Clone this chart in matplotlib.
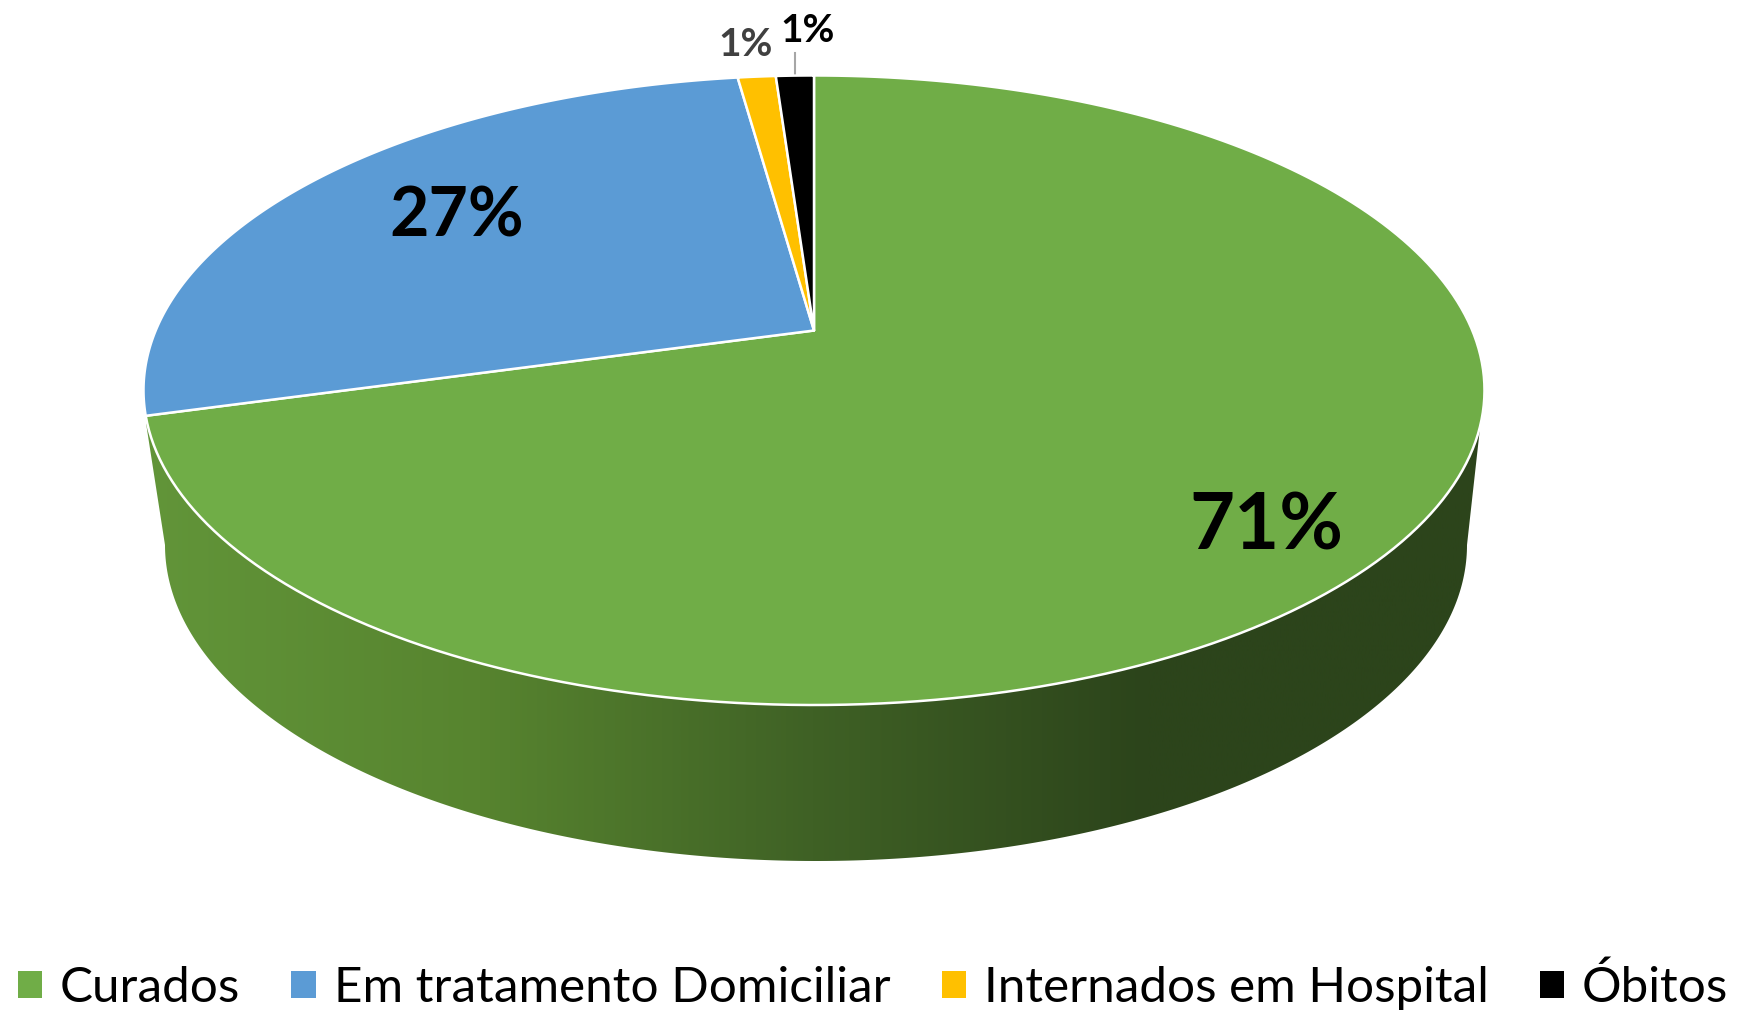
import numpy as np
import matplotlib
matplotlib.use("Agg")
import matplotlib.pyplot as plt
from matplotlib.patches import Polygon, Patch
from matplotlib.colors import LinearSegmentedColormap

categories = ["Curados", "Em tratamento Domiciliar", "Internados em Hospital", "Óbitos"]
values = [70.7, 27.1, 1.1, 1.1]
colors = ["#70AD47", "#5B9BD5", "#FFC000", "#000000"]

W, H = 1739, 1010
plt.rcParams["font.family"] = ["Lato", "DejaVu Sans"]
fig = plt.figure(figsize=(W / 100, H / 100), dpi=100)
ax = fig.add_axes([0, 0, 1, 1])
ax.set_xlim(0, W)
ax.set_ylim(H, 0)
ax.axis("off")

# perspective view of the pie's top face
CX, APEX_Y, C, B, R = 814.0, 330.5, 0.1898, -240.7, 658.3


def project(x, y):
    d = 1 + C * y
    return CX + R * x / d, (APEX_Y + B * y) / d


def rim(a0, a1, n=200):
    # angles in degrees, clockwise from the top of the pie
    t = np.radians(np.linspace(a0, a1, n))
    return np.column_stack(project(np.sin(t), np.cos(t)))


# side wall: lower rim ellipse and gradient
BX, BY, BA, BB = 816.0, 545.0, 651.0, 316.0
t = np.radians(np.linspace(180, 0, 300))
lower = np.column_stack((BX + BA * np.cos(t), BY + BB * np.sin(t)))
side = np.vstack(([[146, 423]], lower, [[1480, 428], [1336, 300], [290, 300]]))
clip = Polygon(side, closed=True, facecolor="none", edgecolor="none", transform=ax.transData)
ax.add_patch(clip)
cmap = LinearSegmentedColormap.from_list("side", ["#629539", "#57842F", "#3F6125", "#2C441B", "#2C441B"])
grad = np.linspace(0, 1, 512).reshape(1, -1)
im = ax.imshow(grad, cmap=cmap, extent=(146, 1480, 870, 290), aspect="auto", zorder=1)
im.set_clip_path(clip)
ax.set_xlim(0, W)
ax.set_ylim(H, 0)

# top face wedges
fractions = np.asarray(values) / np.sum(values) * 360
edges = np.concatenate(([0], np.cumsum(fractions)))
apex = np.array([[CX, APEX_Y]])
for a0, a1, col in zip(edges[:-1], edges[1:], colors):
    pts = np.vstack((apex, rim(a0, a1)))
    ax.add_patch(Polygon(pts, closed=True, facecolor=col, edgecolor="white",
                         linewidth=1.8, joinstyle="round", zorder=2))

# percentage labels
labels = [f"{round(v)}%" for v in values]
ax.text(1266, 527, labels[0], ha="center", va="center", fontsize=56, fontweight="bold", color="black", zorder=3)
ax.text(457, 217, labels[1], ha="center", va="center", fontsize=49, fontweight="bold", color="black", zorder=3)
ax.text(746, 45, labels[2], ha="center", va="center", fontsize=28, fontweight="bold", color="#404040", zorder=3)
ax.text(808, 31, labels[3], ha="center", va="center", fontsize=28, fontweight="bold", color="black", zorder=3)
ax.plot([795, 795], [53, 75], color="#A6A6A6", linewidth=1.5, zorder=1.5)

# legend
handles = [Patch(facecolor=c, edgecolor="none", label=n) for c, n in zip(colors, categories)]
leg = fig.legend(handles=handles, loc="lower center", bbox_to_anchor=(0.502, 0.0), ncol=4,
                 frameon=False, fontsize=35.6, handlelength=0.49, handleheight=0.49,
                 handletextpad=0.36, columnspacing=1.04, borderpad=0.0, borderaxespad=0)

fig.savefig("out.png", dpi=100, facecolor="white")
